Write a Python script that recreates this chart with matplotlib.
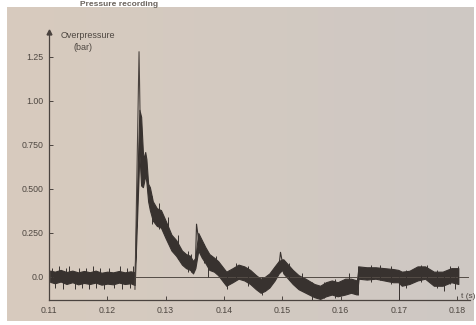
import matplotlib.pyplot as plt
import numpy as np

# overpressure trace (envelope of the noisy signal)
t = [0.1102, 0.1110, 0.1120, 0.1130, 0.1140, 0.1150, 0.1160, 0.1170, 0.1180,
     0.1190, 0.1200, 0.1210, 0.1220, 0.1230, 0.1240, 0.1247,
     0.1255, 0.1258, 0.1261, 0.1263, 0.1265, 0.1267, 0.1270, 0.1273,
     0.1278, 0.1285, 0.1292, 0.1300, 0.1310, 0.1318, 0.1328, 0.1335, 0.1342, 0.1347,
     0.1351, 0.1356, 0.1362, 0.1368, 0.1375, 0.1383, 0.1390, 0.1397, 0.1404,
     0.1415, 0.1425, 0.1435, 0.1445, 0.1455, 0.1463, 0.1470, 0.1478, 0.1487, 0.1494,
     0.1500, 0.1502, 0.1510, 0.1518, 0.1528, 0.1540, 0.1555, 0.1565,
     0.1575, 0.1585, 0.1595, 0.1608, 0.1618, 0.1628,
     0.1631, 0.1645, 0.1660, 0.1675, 0.1690, 0.1699,
     0.1705, 0.1718, 0.1732, 0.1745, 0.1760, 0.1775, 0.1790, 0.1802]
lo = [-0.028, -0.036, -0.026, -0.040, -0.030, -0.042, -0.034, -0.040, -0.032,
      -0.044, -0.038, -0.042, -0.032, -0.040, -0.036, -0.046,
      0.70, 0.52, 0.51, 0.54, 0.58, 0.54, 0.43, 0.38,
      0.32, 0.29, 0.28, 0.22, 0.15, 0.12, 0.07, 0.05, 0.04, 0.02,
      0.05, 0.15, 0.11, 0.08, 0.04, 0.03, 0.01, -0.02, -0.05,
      -0.03, -0.01, -0.02, -0.04, -0.07, -0.09, -0.08, -0.06, -0.02, 0.02,
      0.04, 0.02, -0.01, -0.04, -0.07, -0.09, -0.115, -0.125,
      -0.11, -0.10, -0.11, -0.10, -0.09, -0.10,
      -0.01, -0.015, -0.01, -0.02, -0.03, -0.03,
      -0.05, -0.04, -0.02, -0.01, -0.05, -0.05, -0.03, -0.04]
hi = [0.036, 0.030, 0.040, 0.028, 0.036, 0.026, 0.034, 0.027, 0.036,
      0.024, 0.030, 0.026, 0.034, 0.026, 0.032, 0.026,
      0.95, 0.91, 0.71, 0.67, 0.71, 0.67, 0.53, 0.51,
      0.43, 0.39, 0.38, 0.32, 0.24, 0.21, 0.15, 0.13, 0.12, 0.09,
      0.11, 0.25, 0.21, 0.17, 0.13, 0.11, 0.09, 0.06, 0.03,
      0.05, 0.07, 0.06, 0.04, 0.01, -0.01, 0.00, 0.02, 0.06, 0.09,
      0.10, 0.10, 0.07, 0.04, 0.01, -0.01, -0.04, -0.05,
      -0.03, -0.02, -0.03, -0.01, -0.01, -0.02,
      0.06, 0.055, 0.055, 0.05, 0.045, 0.04,
      0.03, 0.035, 0.06, 0.06, 0.03, 0.03, 0.05, 0.05]

# sharp peaks drawn as thin lines
peak_t = [0.12474, 0.12544, 0.12561]
peak_v = [-0.07, 1.28, 0.94]
peak2_t = [0.1351, 0.1353, 0.1357]
peak2_v = [0.06, 0.30, 0.20]
peak3_t = [0.1494, 0.1497, 0.1501]
peak3_v = [0.05, 0.14, 0.07]

# single noise spikes sticking out of the band
sp_t = [0.1106, 0.1111, 0.1117, 0.1124, 0.1129, 0.1135, 0.1144, 0.1151, 0.1157,
        0.1163, 0.1169, 0.1176, 0.1181, 0.1188, 0.1194, 0.1203, 0.1212, 0.1221,
        0.1226, 0.1233, 0.1239, 0.1244,
        0.1276, 0.1289, 0.1304, 0.1321, 0.1338, 0.1344, 0.1366, 0.1373, 0.1386,
        0.1406, 0.1420, 0.1442, 0.1466, 0.1512, 0.1534, 0.1551, 0.1572, 0.1590,
        0.1615, 0.1630, 0.1652, 0.1668, 0.1686, 0.1700, 0.1712, 0.1738, 0.1748,
        0.1766, 0.1778, 0.1788, 0.1797, 0.1802]
sp_lo = [-0.02, -0.06, -0.01, -0.07, -0.02, 0.00, -0.07, -0.03, -0.06,
         -0.02, -0.07, 0.00, -0.06, -0.03, -0.07, -0.02, -0.06, 0.00,
         -0.07, -0.03, -0.06, 0.00,
         0.30, 0.27, 0.20, 0.10, 0.03, 0.03, 0.08, 0.00, 0.02,
         -0.07, -0.02, -0.05, -0.10, -0.02, -0.08, -0.13, -0.12, -0.12,
         -0.06, -0.10, -0.03, -0.02, -0.04, -0.13, -0.06, -0.03, -0.02,
         -0.06, -0.08, -0.04, -0.07, -0.04]
sp_hi = [0.05, 0.02, 0.06, 0.01, 0.05, 0.06, 0.00, 0.05, 0.01,
         0.05, 0.00, 0.06, 0.01, 0.05, 0.00, 0.05, 0.01, 0.06,
         0.00, 0.05, 0.01, 0.06,
         0.46, 0.42, 0.34, 0.24, 0.15, 0.13, 0.19, 0.12, 0.12,
         0.02, 0.08, 0.06, 0.00, 0.08, 0.02, -0.03, -0.03, -0.01,
         0.02, 0.06, 0.07, 0.07, 0.06, 0.00, 0.04, 0.07, 0.07,
         0.04, 0.01, 0.06, 0.00, 0.06]

base_t = [0.1247, 0.1818]
base_v = [0.0, 0.0]

xticks = [0.11, 0.12, 0.13, 0.14, 0.15, 0.16, 0.17, 0.18]
yticks = [0.0, 0.25, 0.5, 0.75, 1.0, 1.25]
ylabels = ['0.0', '0.250', '0.500', '0.750', '1.00', '1.25']

ink = '#38322f'
txt = '#4e4741'
plt.rcParams['font.family'] = ['Liberation Sans', 'DejaVu Sans']

fig = plt.figure(figsize=(4.77, 3.25), dpi=100)
fig.patch.set_facecolor('white')

# paper photo background
bg = fig.add_axes([7 / 477, 4 / 325, 467 / 477, 314 / 325])
left_c = np.array([216, 203, 190]) / 255
right_c = np.array([206, 200, 196]) / 255
g = np.linspace(0, 1, 200)
grad = left_c[None, None, :] * (1 - g)[None, :, None] + right_c[None, None, :] * g[None, :, None]
grad = np.repeat(grad, 2, axis=0)
bg.imshow(grad, aspect='auto', extent=[0, 1, 0, 1])
bg.axis('off')

ax = fig.add_axes([49 / 477, 25 / 325, 421 / 477, 268 / 325])
ax.patch.set_alpha(0)
ax.set_xlim(0.11, 0.1822)
ax.set_ylim(-0.131, 1.392)

ax.plot(base_t, base_v, color='#544c46', lw=0.7)
ax.fill_between(t, lo, hi, color=ink, lw=0.8, edgecolor=ink)
ax.vlines(sp_t, sp_lo, sp_hi, color=ink, lw=0.7)
ax.plot(peak_t, peak_v, color='#4a433f', lw=0.8)
ax.plot(peak2_t, peak2_v, color=ink, lw=0.8)
ax.plot(peak3_t, peak3_v, color=ink, lw=0.8)

for s in ['top', 'right']:
    ax.spines[s].set_visible(False)
for s in ['left', 'bottom']:
    ax.spines[s].set_color('#4a433f')
    ax.spines[s].set_linewidth(0.9)
ax.plot(0, 1, marker='^', color='#4a433f', ms=3.5, transform=ax.transAxes, clip_on=False)

ax.set_xticks(xticks)
ax.set_xticklabels([f'{v:.2f}' for v in xticks])
ax.set_yticks(yticks)
ax.set_yticklabels(ylabels)
ax.tick_params(direction='in', length=3, width=0.7, color='#4a433f',
               labelsize=6.3, labelcolor=txt)
ax.tick_params(axis='y', pad=4)
ax.tick_params(axis='x', pad=4)

fig.text(61 / 477, 1 - 35 / 325, 'Overpressure', fontsize=6.5, color=txt, va='center')
fig.text(74 / 477, 1 - 47 / 325, '(bar)', fontsize=6.5, color=txt, va='center')
fig.text(461 / 477, 1 - 296 / 325, 't (s)', fontsize=6, color=txt, va='center')
fig.text(80 / 477, 1 - 4 / 325, 'Pressure recording', fontsize=6, color='#6a635d',
         va='center', fontweight='bold')

fig.savefig('out.png', dpi=100)
